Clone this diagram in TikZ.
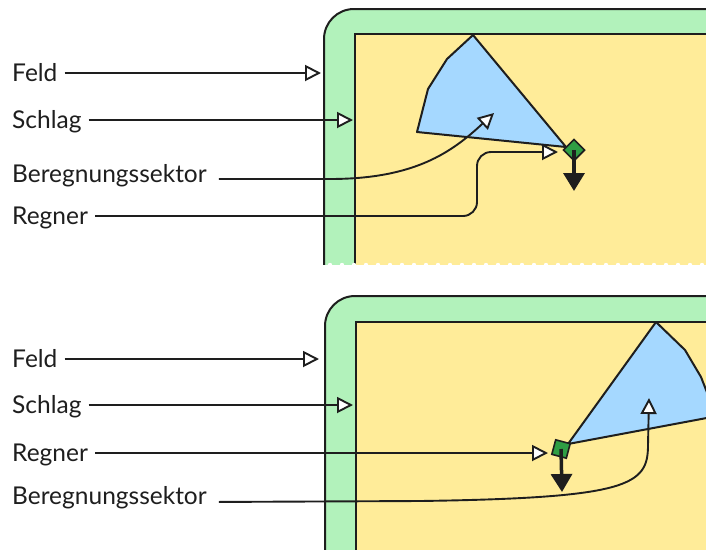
\documentclass[tikz,border=0pt]{standalone}
\usepackage{fontspec}
\setmainfont{Lato}
\usetikzlibrary{arrows.meta}
\definecolor{linie}{HTML}{1E1E1E}
\definecolor{feldgruen}{HTML}{B2F2BB}
\definecolor{schlaggelb}{HTML}{FFEC99}
\definecolor{sektorblau}{HTML}{A5D8FF}
\definecolor{regnergruen}{HTML}{2F9E44}
\tikzset{
  rand/.style={draw=linie, line width=2pt},
  sektor/.style={draw=linie, fill=sektorblau, line width=2pt, line join=round},
  beschriftung/.style={anchor=west, inner xsep=0pt, text=linie, text height=17pt, text depth=0pt,
    font=\fontsize{24.5}{29}\selectfont},
  hinweis/.style={draw=linie, line width=1.9pt, shorten <=7pt,
    -{Triangle[fill=white, length=16pt, width=16pt]}},
  regnerkopf/.style={draw=linie, fill=regnergruen, line width=1.6pt, minimum size=15pt, inner sep=0pt},
  richtung/.style={draw=linie, line width=3.5pt, -{Triangle[length=18pt, width=21pt]}},
}
\begin{document}
\begin{tikzpicture}[x=1pt, y=-1pt]
    \useasboundingbox[fill=white] (0,0) rectangle (706,549);

    % oben: Regner am Rand, Sektor nach links oben
    \begin{scope}
        \clip (0,0) rectangle (706,264);
        \fill[feldgruen, rounded corners=30pt] (324,9) rectangle (740,300);
        \draw[rand, rounded corners=30pt] (324,300) -- (324,9) -- (740,9);
        \fill[schlaggelb] (355,34) rectangle (740,300);
        \draw[rand] (355,300) -- (355,34) -- (740,34);
    \end{scope}
    \foreach \x in {318,330,...,706}
        \fill[white] (\x,265) circle (2.2pt);

    \filldraw[sektor] (566,147) -- (473,35) -- (447,59) -- (428,89) -- (417,132) -- cycle;
    \node[regnerkopf, rotate=45] (rg1) at (574,150) {};
    \coordinate (rg1dir) at (574,191);
    \draw[richtung] (rg1.center) -- (rg1dir);

    \node[beschriftung] (feld1) at (12,73) {Feld};
    \node[beschriftung] (schlag1) at (12,120) {Schlag};
    \node[beschriftung] (sektor1) at (12,174) {Beregnungssektor};
    \node[beschriftung] (regner1) at (12,216) {Regner};

    \coordinate (feld1ziel) at (321,73);
    \coordinate (schlag1ziel) at (353,120);
    \coordinate (sektor1ziel) at (494,113);
    \coordinate (regner1ziel) at (558,152);

    \draw[hinweis] (feld1.east) -- (feld1ziel);
    \draw[hinweis] (schlag1.east) -- (schlag1ziel);
    \draw[hinweis, shorten <=12pt] ([yshift=-5pt]sektor1.east) -- (330,179)
        .. controls (415,179) and (452,152) .. (sektor1ziel);
    \draw[hinweis, rounded corners=14pt] (regner1.east) -- (477,216) -- (477,152) -- (regner1ziel);

    % unten: Regner im Schlag, Sektor nach rechts oben
    \begin{scope}
        \clip (0,270) rectangle (706,549);
        \fill[feldgruen, rounded corners=30pt] (325,296) rectangle (740,600);
        \draw[rand, rounded corners=30pt] (325,600) -- (325,296) -- (740,296);
        \fill[schlaggelb] (356,322) rectangle (740,600);
        \draw[rand] (356,600) -- (356,322) -- (740,322);
        \filldraw[sektor] (568,444) -- (656,322) -- (685,350) -- (701,377) -- (710,400)
            -- (712,417) -- cycle;
    \end{scope}
    \node[regnerkopf, rotate=-15] (rg2) at (561,449) {};
    \coordinate (rg2dir) at (562,492);
    \draw[richtung] (rg2.center) -- (rg2dir);

    \node[beschriftung] (feld2) at (12,359) {Feld};
    \node[beschriftung] (schlag2) at (12,405) {Schlag};
    \node[beschriftung] (regner2) at (12,453) {Regner};
    \node[beschriftung] (sektor2) at (12,496) {Beregnungssektor};

    \coordinate (feld2ziel) at (319,359);
    \coordinate (schlag2ziel) at (353,405);
    \coordinate (regner2ziel) at (548,453);
    \coordinate (sektor2ziel) at (649,398);

    \draw[hinweis] (feld2.east) -- (feld2ziel);
    \draw[hinweis] (schlag2.east) -- (schlag2ziel);
    \draw[hinweis] (regner2.east) -- (regner2ziel);
    \draw[hinweis, shorten <=12pt] ([yshift=-6pt]sektor2.east) -- (420,501)
        .. controls (630,498) and (648,485) .. (648,445) -- (sektor2ziel);
\end{tikzpicture}
\end{document}
